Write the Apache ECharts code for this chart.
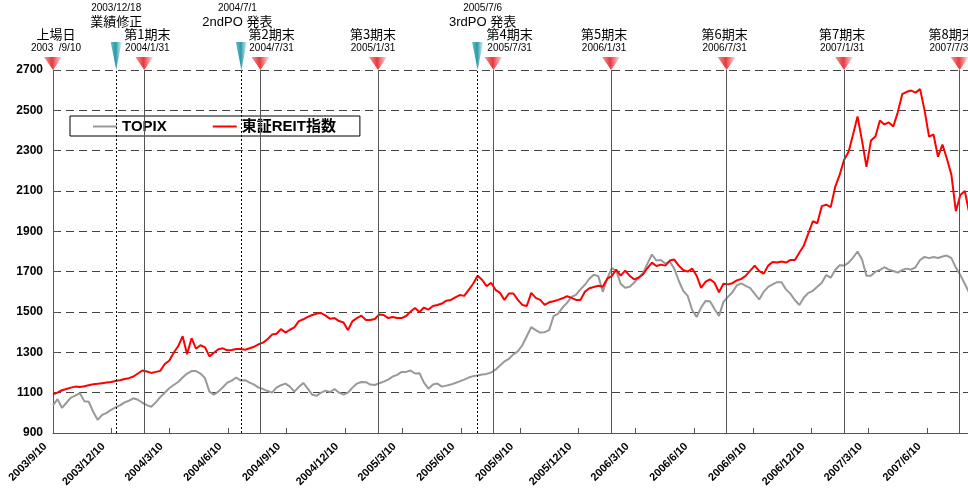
<!DOCTYPE html>
<html><head><meta charset="utf-8">
<script src="https://cdn.jsdelivr.net/npm/echarts@6/dist/echarts.min.js"></script>
<style>html,body{margin:0;padding:0;background:#fff}#c{width:968px;height:488px}</style>
</head><body><div id="c"></div>
<script>
// ---------- data ----------
const startDate = '2003-09-10';   // first weekly sample
const stepDays = 7;               // one sample per week
const xEndDate = '2007-08-13';

const reitIndex = [
1092,1100,1112,1118,1125,1130,1128,1132,1137,1142,
1144,1147,1150,1153,1158,1162,1168,1172,1180,1195,
1210,1205,1198,1203,1208,1242,1258,1298,1330,1380,
1290,1370,1318,1335,1325,1280,1298,1315,1320,1310,
1312,1316,1316,1313,1320,1328,1340,1348,1365,1388,
1392,1415,1398,1412,1424,1455,1464,1476,1485,1492,
1495,1482,1466,1470,1455,1448,1410,1455,1470,1482,
1460,1460,1465,1488,1485,1470,1475,1470,1470,1480,
1502,1520,1500,1522,1512,1530,1535,1542,1556,1560,
1572,1584,1580,1610,1640,1680,1660,1628,1645,1610,
1595,1560,1592,1592,1560,1535,1530,1595,1570,1560,
1535,1548,1553,1560,1568,1578,1570,1560,1560,1600,
1618,1624,1630,1625,1665,1678,1710,1680,1705,1680,
1662,1670,1686,1718,1745,1728,1735,1730,1755,1760,
1730,1708,1700,1715,1680,1620,1650,1662,1645,1598,
1640,1637,1643,1657,1664,1680,1705,1730,1703,1690,
1730,1748,1745,1750,1745,1758,1758,1795,1830,1890,
1950,1940,2025,2032,2020,2120,2180,2255,2295,2380,
2470,2350,2220,2350,2370,2450,2430,2440,2420,2490,
2580,2592,2598,2588,2605,2500,2370,2380,2270,2330,
2260,2180,2000,2080,2100,1990];

const topixIndex = [
1037,1068,1025,1050,1075,1085,1098,1058,1055,1005,
965,990,1000,1015,1027,1037,1052,1060,1072,1065,
1050,1038,1030,1052,1078,1100,1122,1138,1153,1175,
1195,1207,1207,1195,1172,1105,1090,1105,1127,1150,
1160,1175,1160,1162,1150,1140,1125,1118,1108,1100,
1125,1137,1145,1130,1105,1128,1148,1120,1090,1085,
1100,1110,1103,1118,1100,1090,1100,1125,1145,1153,
1152,1140,1138,1147,1155,1165,1180,1188,1203,1203,
1210,1195,1196,1150,1120,1140,1145,1130,1135,1140,
1148,1156,1165,1175,1182,1185,1190,1193,1200,1214,
1235,1255,1268,1290,1305,1335,1380,1425,1410,1398,
1400,1410,1480,1492,1522,1545,1575,1585,1612,1635,
1665,1685,1678,1600,1665,1718,1705,1640,1620,1625,
1645,1670,1693,1740,1785,1755,1758,1740,1750,1715,
1655,1605,1580,1510,1475,1522,1555,1553,1515,1480,
1550,1575,1598,1632,1642,1630,1618,1590,1562,1600,
1625,1637,1648,1648,1612,1590,1558,1535,1572,1595,
1605,1625,1645,1683,1670,1708,1732,1730,1745,1770,
1800,1760,1680,1680,1700,1708,1722,1710,1703,1695,
1708,1715,1710,1723,1758,1773,1767,1773,1768,1775,
1780,1767,1720,1683,1640,1595];

const xTickDates = ['2003-09-10','2003-12-10','2004-03-10','2004-06-10','2004-09-10','2004-12-10',
  '2005-03-10','2005-06-10','2005-09-10','2005-12-10','2006-03-10','2006-06-10','2006-09-10',
  '2006-12-10','2007-03-10','2007-06-10'];
const yMin = 900, yMax = 2700, yStep = 200;

const periodNames = ['上場日','第1期末','第2期末','第3期末','第4期末','第5期末','第6期末','第7期末','第8期末'];
const periodDates = ['2003-09-10','2004-01-31','2004-07-31','2005-01-31','2005-07-31','2006-01-31','2006-07-31','2007-01-31','2007-07-31'];
const periodDateLabels = ['2003  /9/10','2004/1/31','2004/7/31','2005/1/31','2005/7/31','2006/1/31','2006/7/31','2007/1/31','2007/7/31'];

const eventNames = ['業績修正','2ndPO 発表','3rdPO 発表'];
const eventDates = ['2003-12-18','2004-07-01','2005-07-06'];
const eventDateLabels = ['2003/12/18','2004/7/1','2005/7/6'];

const seriesNames = ['TOPIX','東証REIT指数'];

// ---------- styles ----------
const periodLabelDx = [3, 3, 11, -5, 16, -7, -2, -2, -8];
const eventLabelDx = [0, -4, 5];
const FL = "'Liberation Sans', Arial, 'Noto Sans CJK JP', sans-serif";
const FJ = "'Noto Sans CJK JP', sans-serif";

function ts(s){ const p = s.split('-').map(Number); return Date.UTC(p[0], p[1]-1, p[2]); }
function fmtDate(v){ const d = new Date(v); return d.getUTCFullYear()+'/'+(d.getUTCMonth()+1)+'/'+d.getUTCDate(); }
const t0 = ts(startDate);
const toSeries = arr => arr.map((v,i) => [t0 + i*stepDays*86400000, v]);
const xTickVals = xTickDates.map(ts);

const redGrad = {type:'linear', x:0, y:0, x2:1, y2:0, colorStops:[
  {offset:0, color:'#f49a9a'}, {offset:0.45, color:'#e8383c'}, {offset:1, color:'#ffe6e6'}]};
const tealGrad = {type:'linear', x:0, y:0, x2:1, y2:0, colorStops:[
  {offset:0, color:'#6cc0c8'}, {offset:0.45, color:'#2a9aa8'}, {offset:1, color:'#e2f4f6'}]};
const triPath = 'path://M0,0L20,0L10,14Z';

const chart = echarts.init(document.getElementById('c'), null, {renderer:'canvas'});
chart.setOption({
  animation: false,
  backgroundColor: '#fff',
  grid: {left: 53, right: 0, top: 70, bottom: 55, containLabel: false, outerBoundsMode: 'none'},
  legend: {
    data: seriesNames, left: 70, top: 116, orient: 'horizontal',
    icon: 'rect', itemWidth: 24, itemHeight: 2, itemGap: 46,
    borderColor: '#000', borderWidth: 1, backgroundColor: '#fff',
    padding: [3, 24, 2, 23],
    textStyle: {fontSize: 15, fontWeight: 'bold', color: '#000', fontFamily: FL}
  },
  xAxis: {
    type: 'value', min: t0, max: ts(xEndDate), scale: true,
    axisLine: {lineStyle: {color: '#555', width: 1}},
    axisTick: {show: true, inside: true, length: 5, customValues: xTickVals, lineStyle: {color: '#555'}},
    axisLabel: {customValues: xTickVals, formatter: v => fmtDate(v), rotate: 45, showMinLabel: true,
      fontSize: 11, fontWeight: 'bold', color: '#000', margin: 4, padding: [0, 11, 0, 0], fontFamily: FL},
    splitLine: {show: false}
  },
  yAxis: {
    type: 'value', min: yMin, max: yMax, interval: yStep,
    axisLine: {show: true, lineStyle: {color: '#555', width: 1}},
    axisTick: {show: true, inside: true, length: 5, lineStyle: {color: '#555'}},
    axisLabel: {formatter: v => String(v), fontSize: 12, fontWeight: 'bold', color: '#000', margin: 10, fontFamily: FL},
    splitLine: {show: true, lineStyle: {color: '#444', width: 1, type: [8, 5]}}
  },
  series: [
    {name: seriesNames[0], type: 'line', data: toSeries(topixIndex), showSymbol: false, symbol: 'none',
     lineStyle: {color: '#999', width: 2}, itemStyle: {color: '#999'}, z: 3},
    {name: seriesNames[1], type: 'line', data: toSeries(reitIndex), showSymbol: false, symbol: 'none',
     lineStyle: {color: '#ff0000', width: 2}, itemStyle: {color: '#ff0000'}, z: 4},
    {name: 'periods', type: 'scatter', clip: false, silent: true, z: 6,
     symbol: triPath, symbolSize: [18, 13], symbolOffset: [0, '-50%'],
     itemStyle: {color: redGrad, opacity: 1},
     data: periodDates.map((d, i) => ({value: [ts(d), yMax], label: {offset: [periodLabelDx[i], 0]}})),
     label: {show: true, position: 'top', distance: 2,
       formatter: p => '{n|' + periodNames[p.dataIndex] + '}\n{d|' + periodDateLabels[p.dataIndex] + '}',
       rich: {n: {fontSize: 13, fontFamily: FJ, color: '#000', lineHeight: 15, align: 'center'},
              d: {fontSize: 10, fontFamily: FL, color: '#000', lineHeight: 13, align: 'center'}}},
     markLine: {silent: true, symbol: ['none', 'none'], label: {show: false},
       lineStyle: {color: '#555', width: 1, type: 'solid'},
       data: periodDates.slice(1).map(d => ({xAxis: ts(d)}))}
    },
    {name: 'events', type: 'scatter', clip: false, silent: true, z: 6,
     symbol: triPath, symbolSize: [11, 28], symbolOffset: [0, '-50%'],
     itemStyle: {color: tealGrad, opacity: 1},
     data: eventDates.map((d, i) => ({value: [ts(d), yMax], label: {offset: [eventLabelDx[i], 0]}})),
     label: {show: true, position: 'top', distance: 12,
       formatter: p => '{d|' + eventDateLabels[p.dataIndex] + '}\n{n|' + eventNames[p.dataIndex] + '}',
       rich: {n: {fontSize: 13, fontFamily: FL, color: '#000', lineHeight: 15, align: 'center'},
              d: {fontSize: 10, fontFamily: FL, color: '#000', lineHeight: 13, align: 'center'}}},
     markLine: {silent: true, symbol: ['none', 'none'], label: {show: false},
       lineStyle: {color: '#000', width: 1, type: [2, 2]},
       data: eventDates.map(d => ({xAxis: ts(d)}))}
    }
  ]
});
</script></body></html>
